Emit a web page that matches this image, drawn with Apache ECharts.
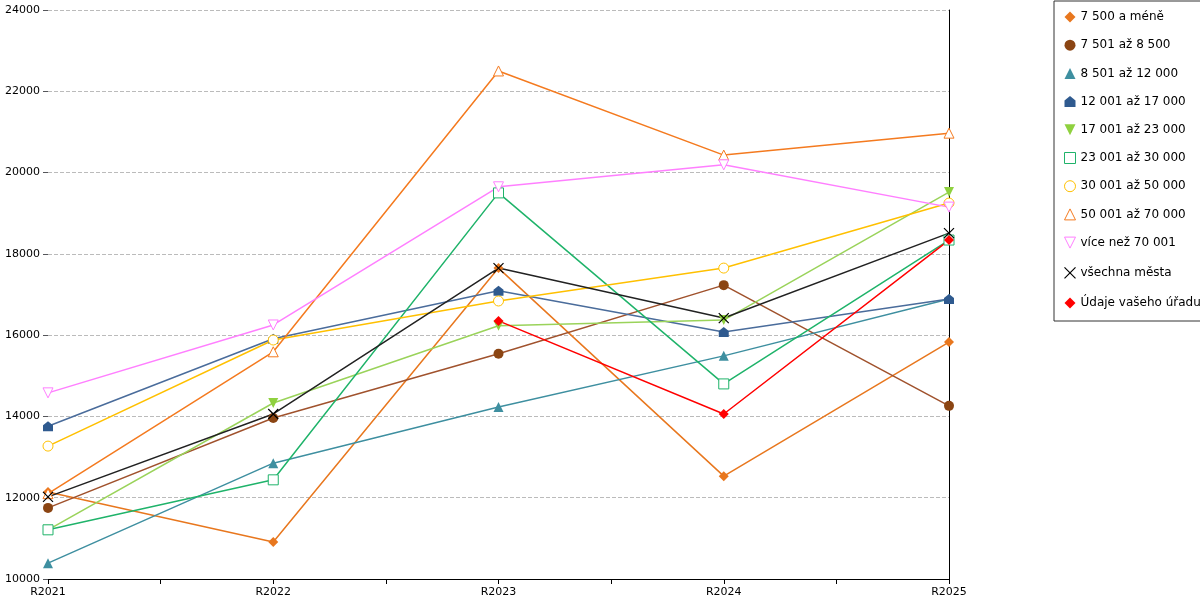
<!DOCTYPE html>
<html><head><meta charset="utf-8">
<script src="https://cdn.jsdelivr.net/npm/echarts@6/dist/echarts.min.js"></script>
<style>html,body{margin:0;background:#fff}#c{width:1200px;height:600px}</style>
</head><body><div id="c"></div>
<script>
var years = ['R2021', 'R2022', 'R2023', 'R2024', 'R2025'];
var names = ['7 500 a méně', '7 501 až 8 500', '8 501 až 12 000', '12 001 až 17 000', '17 001 až 23 000',
  '23 001 až 30 000', '30 001 až 50 000', '50 001 až 70 000', 'více než 70 001', 'všechna města', 'Údaje vašeho úřadu'];
var v1 = [12140, 10910, 17650, 12530, 15830];
var v2 = [11750, 13960, 15540, 17230, 14260];
var v3 = [10390, 12850, 14230, 15490, 16890];
var v4 = [13760, 15910, 17090, 16080, 16890];
var v5 = [11210, 14330, 16230, 16370, 19520];
var v6 = [11210, 12440, 19500, 14800, 18340];
var v7 = [13270, 15880, 16840, 17650, 19250];
var v8 = [12100, 15590, 22500, 20430, 20970];
var v9 = [14580, 16250, 19650, 20190, 19150];
var v10 = [12020, 14060, 17650, 16420, 18510];
var v11 = [null, null, 16350, 14060, 18340];
var values = [v1, v2, v3, v4, v5, v6, v7, v8, v9, v10, v11];
var lineColors = ['#e8771e', '#a0522d', '#3e8fa0', '#4a6c9b', '#9ad35a', '#1fb36a', '#ffc000', '#f47a1f', '#ff7fff', '#222222', '#ff0000'];
var markColors = ['#e8771e', '#8b4513', '#3e8fa0', '#2f5a8f', '#8fd13f', '#1fb36a', '#ffc000', '#f47a1f', '#ff7fff', '#000000', '#ff0000'];
var symbols = ['diamond', 'circle', 'triangle', 'path://M0,4L5,0L10,4L10,10L0,10Z', 'path://M0,0L10,0L5,10Z',
  'rect', 'circle', 'triangle', 'path://M0,0L10,0L5,10Z', 'path://M0,0L10,10M10,0L0,10', 'diamond'];
var hollow = [false, false, false, false, false, true, true, true, true, false, false];

function style(i) {
  if (hollow[i]) return { color: '#fff', borderColor: markColors[i], borderWidth: 1 };
  if (i === 9) return { color: 'none', borderColor: '#000', borderWidth: 1.2 };
  return { color: markColors[i] };
}

var series = names.map(function (n, i) {
  return {
    name: n, type: 'line', data: values[i].map(function (v, j) { return v === null ? null : [j, v]; }),
    symbol: symbols[i], symbolSize: 10,
    lineStyle: { color: lineColors[i], width: 1.5 },
    itemStyle: style(i), color: markColors[i]
  };
});

var chart = echarts.init(document.getElementById('c'));
chart.setOption({
  animation: false,
  textStyle: { fontFamily: 'DejaVu Sans' },
  grid: { left: 48, right: 251, top: 10, bottom: 21 },
  legend: {
    orient: 'vertical', left: 1054, top: 1, width: 145, itemGap: 16.2, padding: [10, 40, 12, 8],
    borderColor: '#333', borderWidth: 1, itemWidth: 11, itemHeight: 11,
    textStyle: { fontSize: 12, color: '#000' },
    data: names.map(function (n, i) {
      return { name: n, icon: symbols[i], itemStyle: style(i) };
    })
  },
  xAxis: {
    type: 'value', min: 0, max: 4, interval: 0.5,
    axisLine: { lineStyle: { color: '#000' } },
    axisTick: { lineStyle: { color: '#000' } },
    splitLine: { show: false },
    axisLabel: { color: '#000', fontSize: 11, formatter: function (v) { return v % 1 === 0 ? years[v] : ''; } }
  },
  yAxis: [{
    type: 'value', min: 10000, max: 24000, interval: 2000,
    axisLine: { show: false },
    axisLabel: { color: '#000', fontSize: 11, formatter: function (v) { return String(v); } },
    splitLine: { lineStyle: { color: '#bbb', type: 'dashed' } }
  }, {
    type: 'value', position: 'right', min: 10000, max: 24000, interval: 2000,
    axisLine: { show: true, lineStyle: { color: '#000' } }, axisLabel: { show: false },
    axisTick: { show: false }, splitLine: { show: false }
  }],
  series: series
});
</script></body></html>
